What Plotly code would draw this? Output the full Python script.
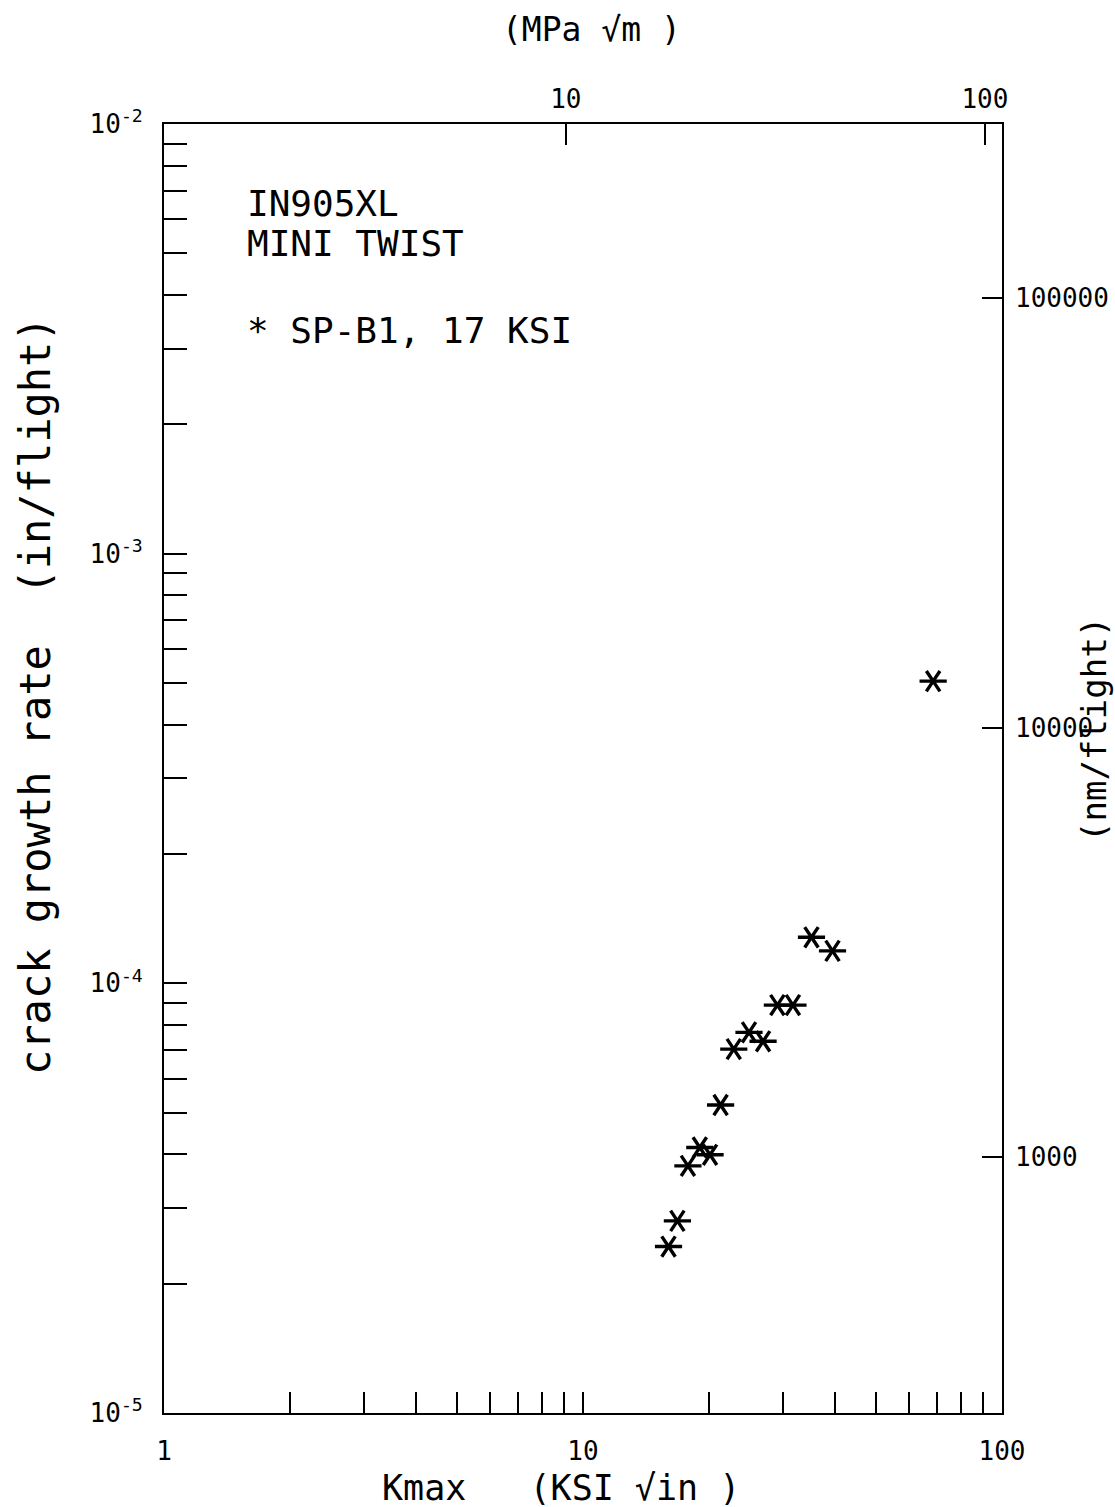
import math
import plotly.graph_objects as go

# Kmax (ksi*sqrt(in)) and crack growth rate (in/flight) for SP-B1, 17 ksi
kmax_ksi = [16.0, 16.8, 17.8, 19.0, 20.1, 21.3, 22.9, 24.9, 26.9, 29.1, 31.7, 35.1, 39.4, 68.5]
rate_in_per_flight = [2.44e-5, 2.80e-5, 3.76e-5, 4.15e-5, 3.99e-5, 5.21e-5, 7.03e-5,
                      7.69e-5, 7.33e-5, 8.90e-5, 8.90e-5, 1.28e-4, 1.19e-4, 5.05e-4]

# axis tick definitions
y_major = [1e-5, 1e-4, 1e-3, 1e-2]
y_major_text = ["10<sup>-5</sup>", "10<sup>-4</sup>", "10<sup>-3</sup>", "10<sup>-2</sup>"]
mpa_ticks = [10, 100]
nm_ticks = [1000, 10000, 100000]

KSI_TO_MPA = 1.0988          # 1 ksi*sqrt(in) in MPa*sqrt(m)
IN_TO_NM = 25.4e6            # 1 inch in nanometres

FONT = "DejaVu Sans Mono"

x_vals, x_text = [], []
for d in (1, 10):
    for m in range(1, 10):
        x_vals.append(m * d)
        x_text.append(str(m * d) if m == 1 else "")
x_vals.append(100)
x_text.append("100")

y_vals, y_text = [], []
for i, d in enumerate(y_major[:-1]):
    for m in range(1, 10):
        y_vals.append(m * d)
        y_text.append(y_major_text[i] if m == 1 else "")
y_vals.append(y_major[-1])
y_text.append(y_major_text[-1])

fig = go.Figure()

# six-armed star markers built from two rotated three-armed symbols
for sym in ("y-up-open", "y-down-open"):
    fig.add_trace(go.Scatter(
        x=kmax_ksi, y=rate_in_per_flight, mode="markers",
        marker=dict(symbol=sym, size=17, angle=90, color="black",
                    line=dict(color="black", width=3.4)),
        showlegend=False, hoverinfo="skip"))

# invisible traces to activate the secondary (SI unit) axes
fig.add_trace(go.Scatter(x=[10], y=[None], xaxis="x2", yaxis="y", showlegend=False))
fig.add_trace(go.Scatter(x=[None], y=[1000], xaxis="x", yaxis="y2", showlegend=False))

axis_font = dict(family=FONT, size=26, color="black")
right_font = dict(family=FONT, size=26, color="black")

lo_mpa = math.log10(KSI_TO_MPA)
lo_nm = math.log10(IN_TO_NM)

fig.update_layout(
    width=1115, height=1507,
    margin=dict(l=164, r=113, t=124, b=94, autoexpand=False),
    paper_bgcolor="white", plot_bgcolor="white",
    xaxis=dict(type="log", range=[0, 2], tickmode="array", tickvals=x_vals,
               ticktext=x_text, ticks="inside", ticklen=21, tickwidth=2,
               tickcolor="black", showline=True, linecolor="black", linewidth=2,
               mirror=True, showgrid=False, zeroline=False, tickfont=axis_font,
               ticklabelstandoff=14, automargin=False),
    yaxis=dict(type="log", range=[-5, -2], tickmode="array", tickvals=y_vals,
               ticktext=y_text, ticks="inside", ticklen=23, tickwidth=2,
               tickcolor="black", showline=True, linecolor="black", linewidth=2,
               mirror=True, showgrid=False, zeroline=False, tickfont=axis_font,
               ticklabelstandoff=14, automargin=False),
    xaxis2=dict(type="log", overlaying="x", side="top",
                range=[lo_mpa, 2 + lo_mpa], tickmode="array",
                tickvals=mpa_ticks, ticktext=[str(v) for v in mpa_ticks],
                ticks="inside", ticklen=21, tickwidth=2, tickcolor="black",
                showline=False, showgrid=False, zeroline=False, tickfont=axis_font,
                ticklabelstandoff=10, automargin=False),
    yaxis2=dict(type="log", overlaying="y", side="right",
                range=[-5 + lo_nm, -2 + lo_nm], tickmode="array",
                tickvals=nm_ticks, ticktext=[str(v) for v in nm_ticks],
                ticks="inside", ticklen=20, tickwidth=2, tickcolor="black",
                showline=False, showgrid=False, zeroline=False, tickfont=right_font,
                ticklabelstandoff=12, automargin=False),
    font=dict(family=FONT, color="black"),
)

fig.add_annotation(text="Kmax   (KSI √in )", xref="paper", yref="paper",
                   x=0.474, y=-0.058, xanchor="center", yanchor="middle",
                   showarrow=False, font=dict(family=FONT, size=35, color="black"))
fig.add_annotation(text="(MPa √m )", xref="paper", yref="paper",
                   x=0.51, y=1.073, xanchor="center", yanchor="middle",
                   showarrow=False, font=dict(family=FONT, size=33, color="black"))
fig.add_annotation(text="crack growth rate  (in/flight)", xref="paper", yref="paper",
                   x=-0.154, y=0.557, xanchor="center", yanchor="middle",
                   textangle=-90, showarrow=False,
                   font=dict(family=FONT, size=42, color="black"))
fig.add_annotation(text="(nm/flight)", xref="paper", yref="paper",
                   x=1.11, y=0.53, xanchor="center", yanchor="middle",
                   textangle=-90, showarrow=False,
                   font=dict(family=FONT, size=34, color="black"))

note_font = dict(family=FONT, size=36, color="black")
fig.add_annotation(text="IN905XL", xref="paper", yref="paper",
                   x=0.097, y=0.938, xanchor="left", yanchor="middle",
                   showarrow=False, font=note_font)
fig.add_annotation(text="MINI TWIST", xref="paper", yref="paper",
                   x=0.097, y=0.907, xanchor="left", yanchor="middle",
                   showarrow=False, font=note_font)
fig.add_annotation(text="* SP-B1, 17 KSI", xref="paper", yref="paper",
                   x=0.097, y=0.84, xanchor="left", yanchor="middle",
                   showarrow=False, font=note_font)

fig.write_html("out.html")
